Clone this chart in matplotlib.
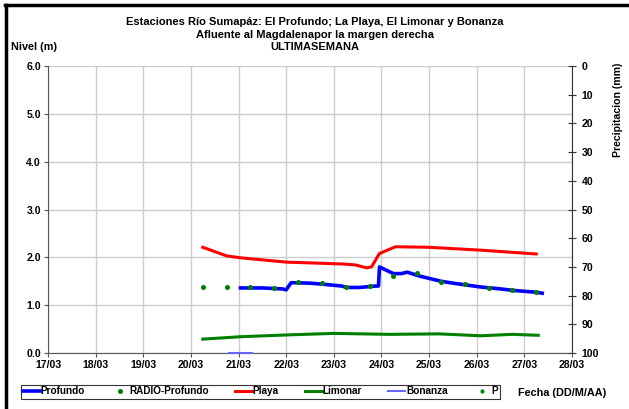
import numpy as np
import pandas as pd
import matplotlib
matplotlib.use("Agg")
import matplotlib.pyplot as plt
import matplotlib.dates as mdates
from matplotlib.lines import Line2D

plt.rcParams['font.family'] = ['Liberation Sans', 'DejaVu Sans']
plt.rcParams['font.weight'] = 'bold'

fmt = "%Y/%d/%m %H:%M"

# Profundo (nivel, m)
prof_t = ["21/03 01:00", "21/03 12:00", "21/03 22:00", "22/03 00:00", "22/03 02:30",
          "22/03 12:00", "22/03 18:00", "23/03 04:00", "23/03 06:30", "23/03 13:00",
          "23/03 21:00", "23/03 22:30", "23/03 23:00", "24/03 06:00", "24/03 10:00",
          "24/03 13:00", "24/03 19:00", "25/03 06:00", "25/03 12:00", "26/03 02:00",
          "26/03 12:00", "26/03 18:00", "27/03 06:00", "27/03 09:00"]
prof_v = [1.36, 1.36, 1.34, 1.32, 1.47,
          1.46, 1.44, 1.40, 1.37, 1.37,
          1.40, 1.40, 1.80, 1.66, 1.66,
          1.69, 1.61, 1.50, 1.46, 1.38,
          1.34, 1.31, 1.27, 1.25]

# RADIO-Profundo (lecturas cada 12 h)
radio_t = ["20/03 06:00", "20/03 18:00", "21/03 06:00", "21/03 18:00", "22/03 06:00",
           "22/03 18:00", "23/03 06:00", "23/03 18:00", "24/03 06:00", "24/03 18:00",
           "25/03 06:00", "25/03 18:00", "26/03 06:00", "26/03 18:00", "27/03 06:00"]
radio_v = [1.37, 1.37, 1.37, 1.35, 1.48,
           1.46, 1.38, 1.40, 1.62, 1.67,
           1.49, 1.44, 1.35, 1.31, 1.27]

# Playa
playa_t = ["20/03 06:00", "20/03 18:00", "21/03 01:00", "22/03 00:00", "23/03 05:00",
           "23/03 11:00", "23/03 16:30", "23/03 19:00", "23/03 23:00", "24/03 07:00",
           "24/03 09:00", "25/03 00:00", "26/03 02:00", "27/03 06:00"]
playa_v = [2.21, 2.03, 1.99, 1.90, 1.86,
           1.84, 1.78, 1.80, 2.08, 2.22,
           2.22, 2.21, 2.15, 2.07]

# Limonar
limon_t = ["20/03 06:00", "21/03 01:00", "22/03 02:00", "23/03 00:00", "24/03 04:00",
           "25/03 05:00", "26/03 02:00", "26/03 18:00", "27/03 07:00"]
limon_v = [0.29, 0.34, 0.38, 0.41, 0.39, 0.40, 0.36, 0.39, 0.37]

# Bonanza
bonan_t = ["20/03 19:00", "21/03 07:00"]
bonan_v = [0.0, 0.0]

# P (precipitacion, mm) - sin datos
p_t = []
p_v = []

def to_dt(lst):
    return pd.to_datetime(["2000/" + s for s in lst], format=fmt)

fig = plt.figure(figsize=(6.29, 4.09), dpi=100)
ax = fig.add_axes([48/629, 1 - 353/409, 524/629, 287/409])

ax.plot(to_dt(playa_t), playa_v, color='#ff0000', lw=2.2, zorder=3)
ax.plot(to_dt(limon_t), limon_v, color='#008000', lw=2.2, zorder=3)
ax.plot(to_dt(prof_t), prof_v, color='#0000ff', lw=2.6, zorder=4)
ax.plot(to_dt(radio_t), radio_v, ls='none', marker='o', ms=2.6, color='#008000', zorder=5)
ax.plot(to_dt(bonan_t), bonan_v, color='#6666ff', lw=1.5, zorder=5, clip_on=False)

ax.set_xlim(pd.Timestamp("2000-03-17"), pd.Timestamp("2000-03-28"))
ax.set_ylim(0, 6)
ax.set_yticks(np.arange(0, 6.1, 1.0))
ax.yaxis.set_major_formatter(matplotlib.ticker.FormatStrFormatter('%.1f'))
ax.xaxis.set_major_locator(mdates.DayLocator())
ax.xaxis.set_major_formatter(mdates.DateFormatter("%d/%m"))
ax.grid(True, color='#cccccc', lw=1.0)
ax.set_axisbelow(True)
for s in ['top', 'right']:
    ax.spines[s].set_visible(False)
for s in ['left', 'bottom']:
    ax.spines[s].set_color('#555555')
ax.tick_params(axis='both', labelsize=7.6, length=3, color='#555555', pad=2)

ax2 = ax.twinx()
ax2.set_ylim(100, 0)
ax2.set_yticks(np.arange(0, 101, 10))
ax2.plot(to_dt(p_t) if p_t else [], p_v, ls='none', marker='o', ms=2, color='#008000')
for s in ['top', 'left', 'bottom']:
    ax2.spines[s].set_visible(False)
ax2.spines['right'].set_color('#333333')
ax2.tick_params(axis='y', labelsize=7.6, direction='inout', length=6, color='#333333', pad=4)

fig.text(315/629, 1 - 22/409, "Estaciones Río Sumapáz: El Profundo; La Playa, El Limonar y Bonanza",
         ha='center', va='center', fontsize=8, fontweight='bold')
fig.text(315/629, 1 - 34.5/409, "Afluente al Magdalenapor la margen derecha",
         ha='center', va='center', fontsize=8, fontweight='bold')
fig.text(315/629, 1 - 47/409, "ULTIMASEMANA",
         ha='center', va='center', fontsize=8, fontweight='bold')
fig.text(11/629, 1 - 47/409, "Nivel (m)", ha='left', va='center', fontsize=7.8, fontweight='bold')
fig.text(618/629, 1 - 110/409, "Precipitacion (mm)", ha='center', va='center',
         rotation=90, fontsize=7.6, fontweight='bold')
fig.text(518/629, 1 - 393/409, "Fecha (DD/M/AA)", ha='left', va='center',
         fontsize=7.8, fontweight='bold')

handles = [Line2D([], [], color='#0000ff', lw=2.6),
           Line2D([], [], ls='none', marker='o', ms=2.6, color='#008000'),
           Line2D([], [], color='#ff0000', lw=2.2),
           Line2D([], [], color='#008000', lw=2.2),
           Line2D([], [], color='#6666ff', lw=1.5),
           Line2D([], [], ls='none', marker='o', ms=2, color='#008000')]
labels = ["Profundo", "RADIO-Profundo", "Playa", "Limonar", "Bonanza", "P"]
leg = fig.legend(handles, labels, ncol=6, loc='center', bbox_to_anchor=(260.5/629, 1 - 391.5/409),
                 fontsize=7.2, frameon=True, fancybox=False, edgecolor='black',
                 handlelength=1.7, handletextpad=0.1, columnspacing=2.6,
                 borderpad=0.2, borderaxespad=0)
leg.get_frame().set_linewidth(0.8)

# marco de la figura
fig.add_artist(Line2D([0.008, 1.0], [1 - 5/409, 1 - 5/409], color='black', lw=2.5,
                      transform=fig.transFigure))
fig.add_artist(Line2D([6/629, 6/629], [0, 1 - 5/409], color='black', lw=2.5,
                      transform=fig.transFigure))

fig.savefig("out.png", dpi=100)
